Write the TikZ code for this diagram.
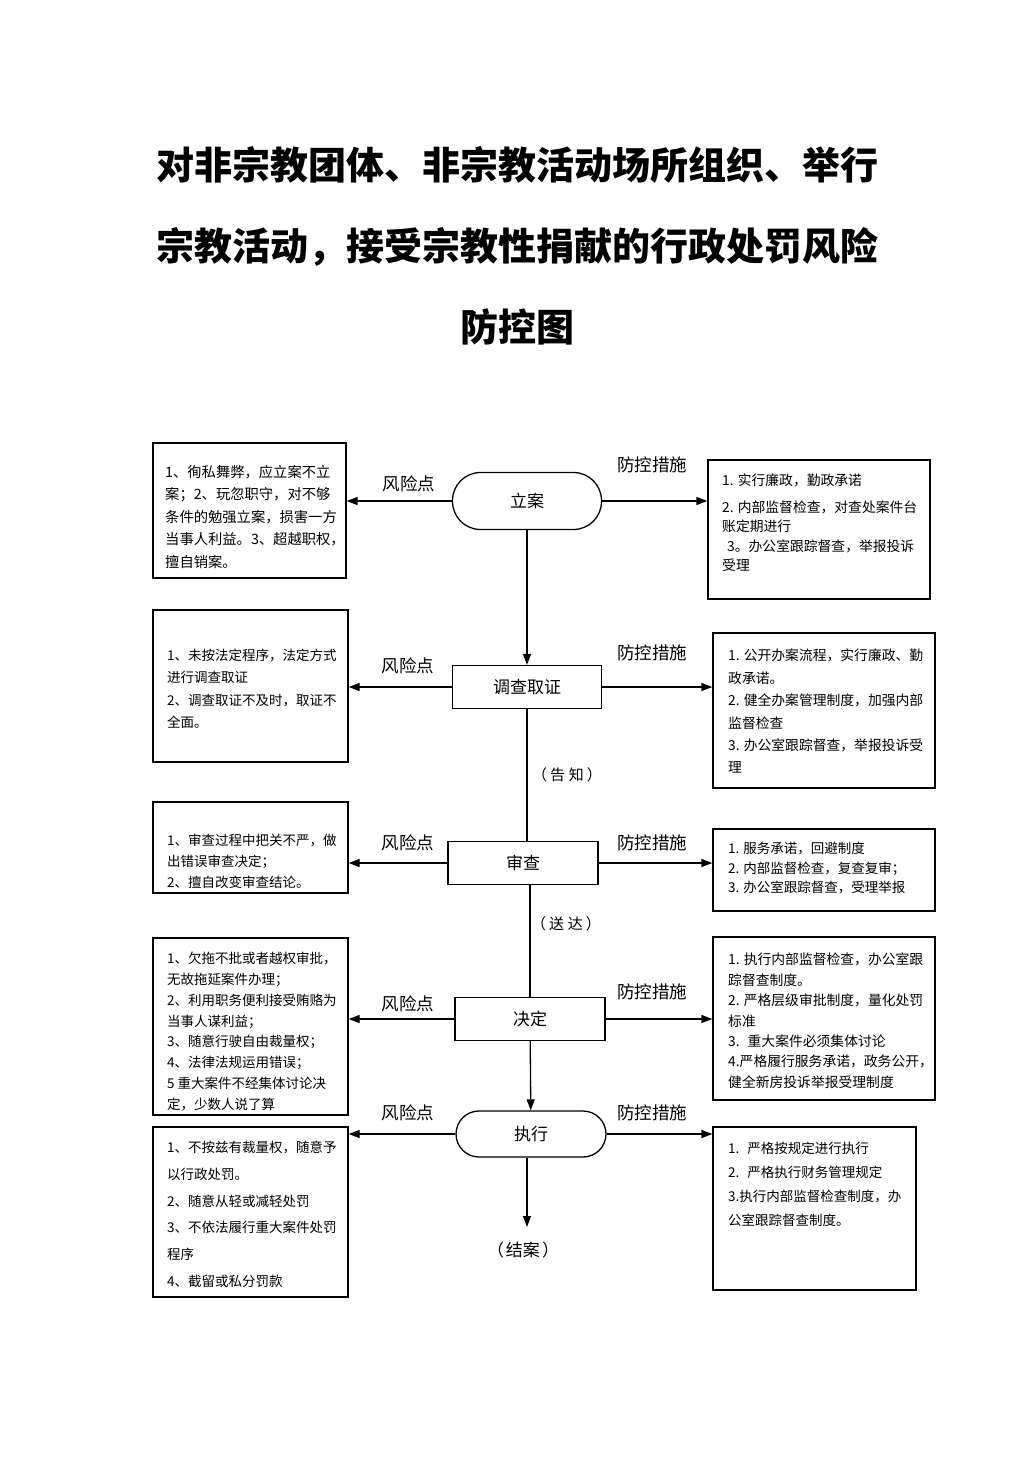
\documentclass[tikz,border=0pt]{standalone}
\usepackage{fontspec}
\setmainfont{Noto Sans CJK SC}
\usetikzlibrary{arrows.meta}
\begin{document}
\begin{tikzpicture}[x=1pt,y=-1pt,
  box/.style={draw, line width=1.3pt, inner sep=0pt},
  txt/.style={anchor=north west, inner sep=0pt, align=left},
  stage/.style={draw, line width=1.3pt, minimum width=150pt, minimum height=43pt, inner sep=0pt, font=\fontsize{17}{20}\selectfont},
  pill/.style={stage, rounded corners=#1},
  lab/.style={inner sep=0pt, font=\fontsize{17.5}{20}\selectfont},
  note/.style={inner sep=0pt, font=\fontsize{15}{18}\selectfont},
  arr/.style={-{Triangle[length=11pt,width=8pt]}, line width=1.3pt},
  ln/.style={line width=1.3pt},
  ttl/.style={inner sep=0pt, font=\fontsize{38}{40}\selectfont\bfseries}
]
\useasboundingbox (0,0) rectangle (1033,1461);
\fill[white] (0,0) rectangle (1033,1461);

% title
\node[ttl] (t1) at (517,165) {对非宗教团体、非宗教活动场所组织、举行};
\node[ttl] (t2) at (517,247) {宗教活动，接受宗教性捐献的行政处罚风险};
\node[ttl] (t3) at (517,327) {防控图};

% central stages
\node[pill=28pt, minimum height=57pt, minimum width=149pt] (la) at (527,501) {立案};
\node[stage, minimum width=149pt] (dc) at (527,687) {调查取证};
\node[stage] (sc) at (523,863) {审查};
\node[stage] (jd) at (530,1019) {决定};
\node[pill=23pt, minimum height=46pt] (zx) at (531,1134) {执行};
\node[inner sep=0pt, font=\fontsize{17}{20}\selectfont] (ja) at (523,1250) {（\hspace{2pt}结案\hspace{2pt}）};
\coordinate (jaT) at (527,1227);

% left boxes
\node[box, minimum width=193pt, minimum height=135pt] (L1) at (249.5,510.5) {};
\node[box, minimum width=195pt, minimum height=152pt] (L2) at (250.5,686) {};
\node[box, minimum width=195pt, minimum height=91pt] (L3) at (250.5,847.5) {};
\node[box, minimum width=195pt, minimum height=177pt] (L4) at (250.5,1026.5) {};
\node[box, minimum width=195pt, minimum height=170pt] (L5) at (250.5,1212) {};
% right boxes
\node[box, minimum width=222pt, minimum height=139pt] (R1) at (819,529.5) {};
\node[box, minimum width=222pt, minimum height=155pt] (R2) at (824,710.5) {};
\node[box, minimum width=222pt, minimum height=82pt] (R3) at (824,870) {};
\node[box, minimum width=222pt, minimum height=163pt] (R4) at (824,1018.5) {};
\node[box, minimum width=203pt, minimum height=163pt] (R5) at (814.5,1208.5) {};

% box texts
\node[txt, font=\fontsize{14.3}{22.5}\selectfont] (l1t) at (165,465) {1、徇私舞弊，应立案不立\\案；2、玩忽职守，对不够\\条件的勉强立案，损害一方\\当事人利益。3、超越职权，\\擅自销案。};
\node[txt, font=\fontsize{13.8}{19.5}\selectfont] (r1t) at (722,474) {1. 实行廉政，勤政承诺\\[7pt]2. 内部监督检查，对查处案件台\\账定期进行\\\hspace{5pt}3。办公室跟踪督查，举报投诉\\受理};
\node[txt, font=\fontsize{13.5}{22.2}\selectfont] (l2t) at (167,649) {1、未按法定程序，法定方式\\进行调查取证\\2、调查取证不及时，取证不\\全面。};
\node[txt, font=\fontsize{13.8}{22.4}\selectfont] (r2t) at (728,649) {1. 公开办案流程，实行廉政、勤\\政承诺。\\2. 健全办案管理制度，加强内部\\监督检查\\3. 办公室跟踪督查，举报投诉受\\理};
\node[txt, font=\fontsize{13.5}{21}\selectfont] (l3t) at (167,834) {1、审查过程中把关不严，做\\出错误审查决定；\\2、擅自改变审查结论。};
\node[txt, font=\fontsize{13.5}{19.4}\selectfont] (r3t) at (728,842) {1. 服务承诺，回避制度\\2. 内部监督检查，复查复审；\\3. 办公室跟踪督查，受理举报};
\node[txt, font=\fontsize{13.5}{20.8}\selectfont] (l4t) at (167,952) {1、欠拖不批或者越权审批，\\无故拖延案件办理；\\2、利用职务便利接受贿赂为\\当事人谋利益；\\3、随意行驶自由裁量权；\\4、法律法规运用错误；\\5 重大案件不经集体讨论决\\定，少数人说了算};
\node[txt, font=\fontsize{13.8}{20.4}\selectfont] (r4t) at (728,953) {1. 执行内部监督检查，办公室跟\\踪督查制度。\\2. 严格层级审批制度，量化处罚\\标准\\3.\hspace{8pt}重大案件必须集体讨论\\4.严格履行服务承诺，政务公开，\\健全新房投诉举报受理制度};
\node[txt, font=\fontsize{13.5}{26.7}\selectfont] (l5t) at (167,1141) {1、不按兹有裁量权，随意予\\以行政处罚。\\2、随意从轻或减轻处罚\\3、不依法履行重大案件处罚\\程序\\4、截留或私分罚款};
\node[txt, font=\fontsize{13.5}{23.9}\selectfont] (r5t) at (728,1142) {1.\hspace{8pt}严格按规定进行执行\\2.\hspace{8pt}严格执行财务管理规定\\3.执行内部监督检查制度，办\\公室跟踪督查制度。};

% vertical flow
\draw[arr] (la) -- (dc);
\draw[ln] (dc.south) -- (dc.south |- sc.north);
\draw[ln] (jd.north |- sc.south) -- (jd.north);
\draw[arr] (jd) -- (zx);
\draw[arr] (zx.south -| jaT) -- (jaT);
\node[note] (gz) at (567,775) {（\hspace{3pt}告\hspace{4pt}知\hspace{3pt}）};
\node[note] (sd) at (566,924) {（\hspace{3pt}送\hspace{4pt}达\hspace{3pt}）};

% horizontal arrows
\draw[arr] (la.west) -- (L1.east |- la.west);
\draw[arr] (la.east) -- (R1.west |- la.east);
\draw[arr] (dc.west) -- (L2.east |- dc.west);
\draw[arr] (dc.east) -- (R2.west |- dc.east);
\draw[arr] (sc.west) -- (L3.east |- sc.west);
\draw[arr] (sc.east) -- (R3.west |- sc.east);
\draw[arr] (jd.west) -- (L4.east |- jd.west);
\draw[arr] (jd.east) -- (R4.west |- jd.east);
\draw[arr] (zx.west) -- (L5.east |- zx.west);
\draw[arr] (zx.east) -- (R5.west |- zx.east);

% labels
\node[lab] (f1) at (409,484) {风险点};
\node[lab] (p1) at (652,465) {防控措施};
\node[lab] (f2) at (408,666) {风险点};
\node[lab] (p2) at (652,653) {防控措施};
\node[lab] (f3) at (408,843) {风险点};
\node[lab] (p3) at (652,843) {防控措施};
\node[lab] (f4) at (408,1004) {风险点};
\node[lab] (p4) at (652,992) {防控措施};
\node[lab] (f5) at (408,1113) {风险点};
\node[lab] (p5) at (652,1113) {防控措施};
\end{tikzpicture}
\end{document}
